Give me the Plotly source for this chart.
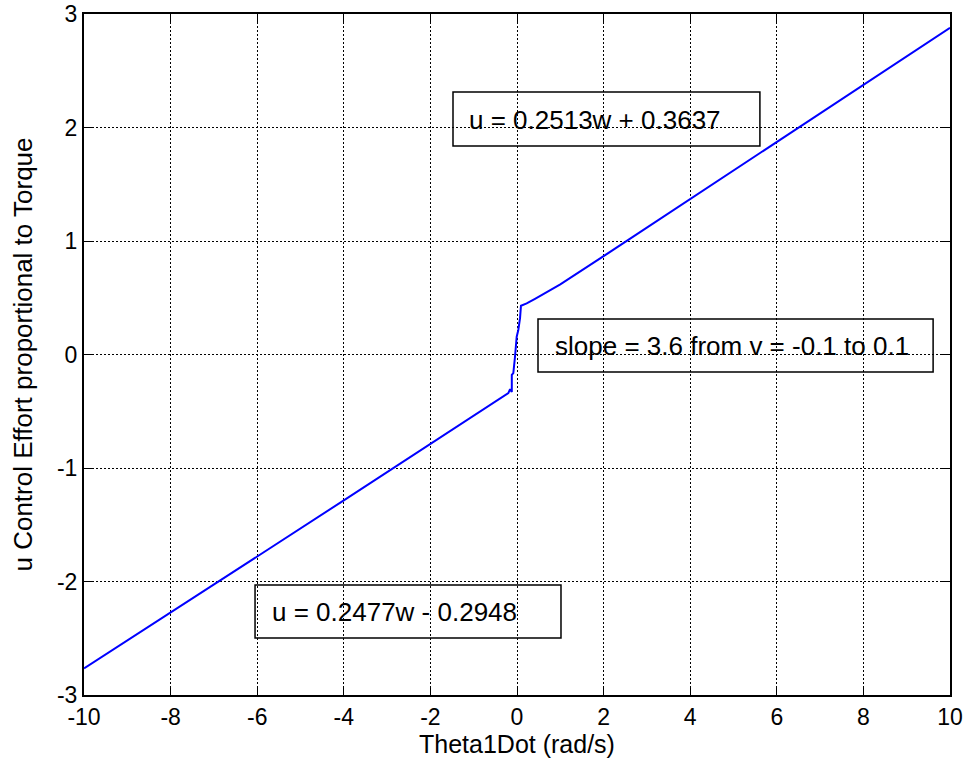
import plotly.graph_objects as go

# Data
theta1dot = [-10.0, -8.0, -6.0, -4.0, -2.0, -1.0, -0.50, -0.20, -0.16, -0.12, -0.12,
             -0.085, -0.046, -0.007, 0.03, 0.07, 0.092, 0.224, 0.416, 1.0, 2.0,
             4.0, 6.0, 8.0, 10.0]
u_effort = [-2.765, -2.275, -1.78, -1.285, -0.79, -0.54, -0.415, -0.34, -0.305, -0.33, -0.18,
            -0.163, -0.02, 0.157, 0.216, 0.32, 0.43, 0.45, 0.49, 0.618, 0.866,
            1.369, 1.872, 2.374, 2.879]

x_ticks = [-10, -8, -6, -4, -2, 0, 2, 4, 6, 8, 10]
y_ticks = [-3, -2, -1, 0, 1, 2, 3]

box_texts = ["u = 0.2513w + 0.3637", "u = 0.2477w - 0.2948", "slope = 3.6 from v = -0.1 to 0.1"]

FONT = "Liberation Sans, Arial, sans-serif"

fig = go.Figure()
fig.add_trace(go.Scatter(x=theta1dot, y=u_effort, mode="lines",
                         line=dict(color="#0000ff", width=2), showlegend=False,
                         hoverinfo="skip"))

# Text boxes (rectangles + texts)
boxes = [
    dict(x0=-1.478, x1=5.61, y0=1.837, y1=2.313, tx=-1.155, ty=2.066),
    dict(x0=-6.05, x1=1.016, y0=-2.498, y1=-2.031, tx=-5.70, ty=-2.266),
    dict(x0=0.485, x1=9.61, y0=-0.154, y1=0.313, tx=0.831, ty=0.075),
]
for b, t in zip(boxes, box_texts):
    fig.add_shape(type="rect", xref="x", yref="y", x0=b["x0"], x1=b["x1"],
                  y0=b["y0"], y1=b["y1"], line=dict(color="black", width=1.5),
                  fillcolor="rgba(0,0,0,0)", layer="above")
    fig.add_annotation(x=b["tx"], y=b["ty"], xref="x", yref="y", text=t,
                       showarrow=False, xanchor="left", yanchor="middle",
                       font=dict(family=FONT, size=26, color="black"))

axis_common = dict(
    showgrid=True, gridcolor="black", gridwidth=1, griddash="2px,2px",
    showline=True, linecolor="black", linewidth=2, mirror="ticks",
    ticks="inside", ticklen=8, tickwidth=1, tickcolor="black",
    zeroline=False, ticklabeloverflow="allow",
    tickfont=dict(family=FONT, size=23, color="black"),
)

fig.update_xaxes(range=[-10, 10], tickvals=x_ticks, ticktext=[str(v) for v in x_ticks],
                 title=dict(text="Theta1Dot (rad/s)", font=dict(family=FONT, size=25, color="black"),
                            standoff=0),
                 **axis_common)
fig.update_yaxes(range=[-3, 3], tickvals=y_ticks, ticktext=[str(v) for v in y_ticks],
                 title=dict(text="u Control Effort proportional to Torque",
                            font=dict(family=FONT, size=26, color="black"), standoff=17),
                 **axis_common)

fig.update_layout(
    width=967, height=772,
    margin=dict(l=84, r=17, t=14, b=77, autoexpand=False),
    plot_bgcolor="white", paper_bgcolor="white",
    showlegend=False,
)

# Remove the page's default 8px body margin so the figure sits at the window corner
fig.write_html("out.html",
               config={"displayModeBar": False},
               post_script="document.body.style.margin='0';document.body.style.overflow='hidden';")
